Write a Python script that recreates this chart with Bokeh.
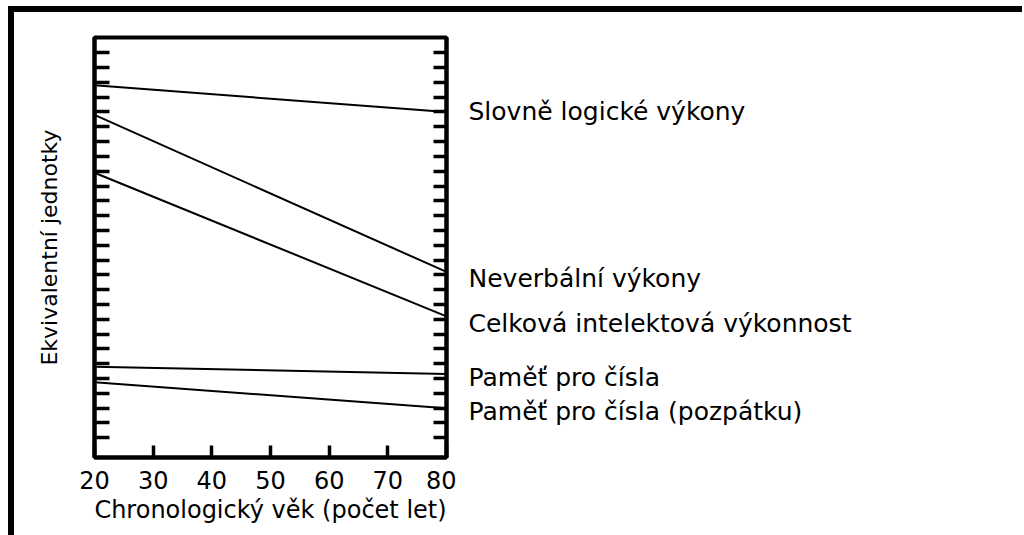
from bokeh.plotting import figure
from bokeh.layouts import row
from bokeh.models import Range1d, LinearAxis, FixedTicker, ColumnDataSource, CustomJSTickFormatter
from bokeh.core.properties import value
from bokeh.embed import file_html
from bokeh.resources import INLINE

# ---- data ----
ages = [20, 80]
series_names = [
    "Slovně logické výkony",
    "Neverbální výkony",
    "Celková intelektová výkonnost",
    "Paměť pro čísla",
    "Paměť pro čísla (pozpátku)",
]
slovne_logicke = [24.8, 23.0]
neverbalni = [22.8, 12.2]
celkova = [18.9, 9.2]
pamet = [5.8, 5.3]
pamet_pozpatku = [4.75, 3.0]
x_ticks = [20, 30, 40, 50, 60, 70, 80]
y_ticks = list(range(1, 28))

all_series = [slovne_logicke, neverbalni, celkova, pamet, pamet_pozpatku]

FONT = "DejaVu Sans"
TOP, BOTTOM, FRAME_H = 25, 78, 420

p = figure(frame_width=352, frame_height=FRAME_H,
           x_range=Range1d(20, 80), y_range=Range1d(-0.33, 28.03),
           output_backend="svg", toolbar_location=None,
           min_border_left=80, min_border_top=TOP,
           min_border_right=10, min_border_bottom=BOTTOM)

p.xgrid.visible = False
p.ygrid.visible = False
p.outline_line_color = "black"
p.outline_line_width = 4
p.background_fill_color = "white"
p.border_fill_color = "white"

for s in all_series:
    p.line(ages, s, line_color="black", line_width=2)

# x axis
xa = p.xaxis[0]
xa.ticker = FixedTicker(ticks=x_ticks)
xa.minor_tick_line_color = None
xa.major_tick_in = 12
xa.major_tick_out = 0
xa.major_tick_line_width = 3.5
xa.axis_line_width = 4
xa.major_label_text_font = FONT
xa.major_label_text_font_size = "24px"
xa.major_label_text_color = "black"
xa.major_label_standoff = 13
xa.axis_label = "Chronologický věk (počet let)"
xa.axis_label_text_font = FONT
xa.axis_label_text_font_size = "24px"
xa.axis_label_text_font_style = "normal"
xa.axis_label_text_color = "black"
xa.axis_label_standoff = 4

blank = CustomJSTickFormatter(code="return ''")

# y axis (left)
ya = p.yaxis[0]
ya.ticker = FixedTicker(ticks=y_ticks)
ya.formatter = blank
ya.minor_tick_line_color = None
ya.major_tick_in = 15
ya.major_tick_out = 0
ya.major_tick_line_width = 3.5
ya.axis_line_width = 4
ya.major_label_standoff = 0
ya.axis_label = "Ekvivalentní jednotky"
ya.axis_label_text_font = FONT
ya.axis_label_text_font_size = "22px"
ya.axis_label_text_font_style = "normal"
ya.axis_label_text_color = "black"
ya.axis_label_standoff = 33

# right axis
ra = LinearAxis(ticker=FixedTicker(ticks=y_ticks), formatter=blank)
ra.minor_tick_line_color = None
ra.major_tick_in = 13
ra.major_tick_out = 0
ra.major_tick_line_width = 3.5
ra.axis_line_width = 4
ra.major_label_standoff = 0
p.add_layout(ra, "right")

# label panel sharing the y scale
q = figure(frame_width=566, frame_height=FRAME_H,
           x_range=Range1d(0, 1), y_range=p.y_range,
           output_backend="svg", toolbar_location=None,
           min_border_left=0, min_border_right=0,
           min_border_top=TOP, min_border_bottom=BOTTOM)
q.axis.visible = False
q.xgrid.visible = False
q.ygrid.visible = False
q.outline_line_color = None
q.background_fill_color = "white"
q.border_fill_color = "white"

label_offsets = [0.0, -0.47, -0.47, -0.22, -0.25]
src = ColumnDataSource(dict(
    x=[0] * len(series_names),
    y=[s[-1] + o for s, o in zip(all_series, label_offsets)],
    text=series_names,
))
q.text(x="x", y="y", text="text", source=src, x_offset=12,
       text_font=value(FONT), text_font_size="25px", text_color="black",
       text_baseline="middle", text_align="left")

layout = row(p, q, spacing=0,
             styles={"border-top": "6px solid black", "border-left": "6px solid black",
                     "margin-top": "6px", "margin-left": "8px"})

open("out.html", "w").write(file_html(layout, INLINE))
